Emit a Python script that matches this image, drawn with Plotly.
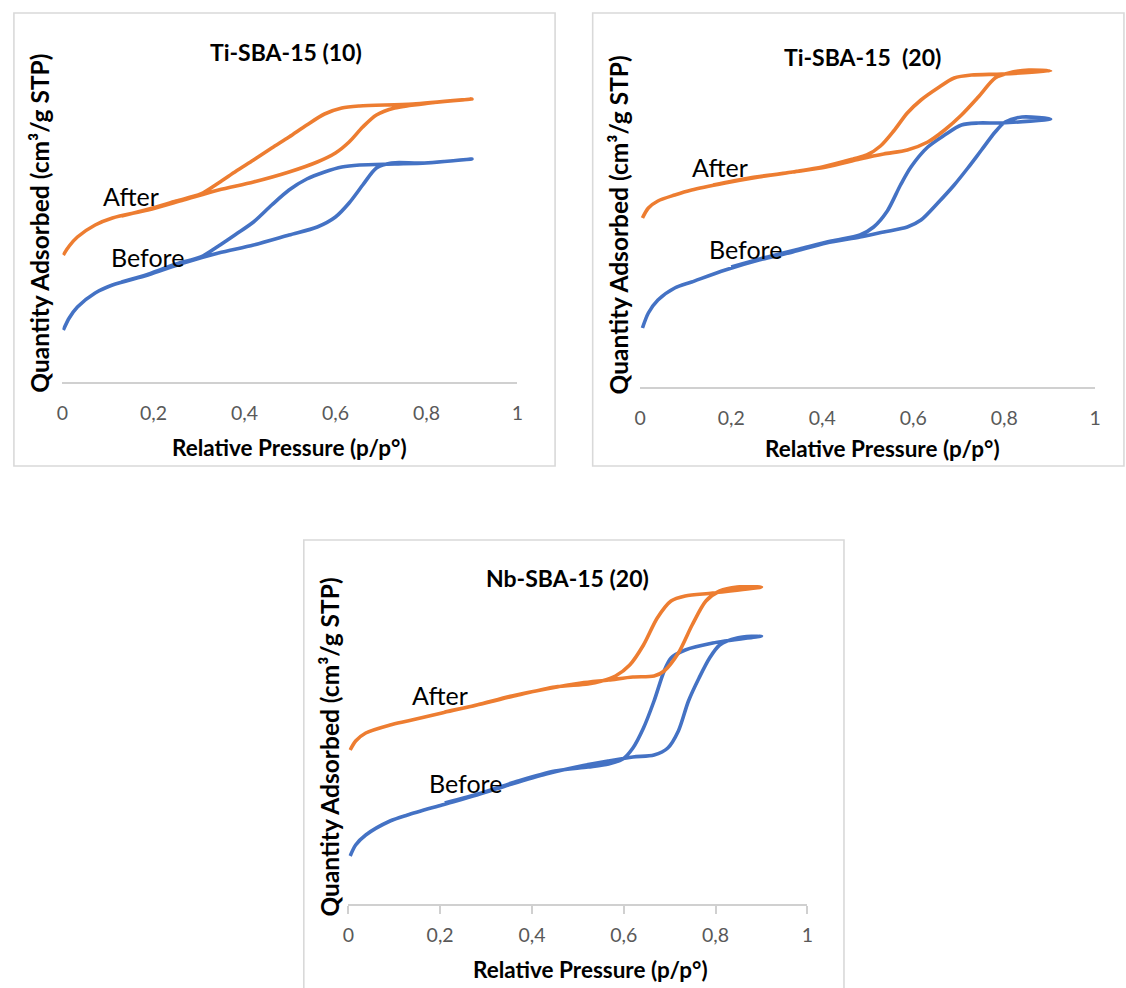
import plotly.graph_objects as go

# ---------------------------------------------------------------
# N2 physisorption isotherms (adsorption branch followed by the
# desorption branch), relative pressure p/p° vs quantity adsorbed
# ---------------------------------------------------------------

# Ti-SBA-15 (10)
ti10_before_ads_p = [0.002, 0.015, 0.033, 0.072, 0.11, 0.188, 0.266, 0.343, 0.42, 0.498, 0.56, 0.60, 0.63, 0.66, 0.69, 0.723, 0.79, 0.90]
ti10_before_ads_q = [52, 64, 75, 89, 97, 107, 119, 129, 137, 147, 155, 165, 179, 197, 214, 219, 219, 223]
ti10_before_des_p = [0.80, 0.73, 0.653, 0.614, 0.576, 0.537, 0.498, 0.46, 0.42, 0.382, 0.343, 0.304, 0.25, 0.19, 0.13]
ti10_before_des_q = [219, 218, 217, 215, 210, 203, 192, 177, 160, 148, 136, 125, 118, 108, 100]

ti10_after_ads_p = [0.002, 0.015, 0.033, 0.072, 0.11, 0.188, 0.266, 0.343, 0.42, 0.498, 0.56, 0.60, 0.63, 0.66, 0.69, 0.73, 0.808, 0.90]
ti10_after_ads_q = [127, 136, 145, 157, 164, 172, 182, 192, 200, 210, 220, 229, 240, 255, 267, 274, 279, 283]
ti10_after_des_p = [0.77, 0.653, 0.614, 0.576, 0.537, 0.498, 0.46, 0.42, 0.382, 0.343, 0.304, 0.25, 0.19, 0.13]
ti10_after_des_q = [278, 276, 274, 268, 257, 245, 234, 222, 211, 199, 188, 181, 173, 166]

# Ti-SBA-15 (20)
ti20_before_ads_p = [0.005, 0.018, 0.039, 0.076, 0.113, 0.187, 0.261, 0.335, 0.409, 0.483, 0.535, 0.587, 0.617, 0.654, 0.69, 0.72, 0.75, 0.78, 0.802, 0.839, 0.902]
ti20_before_ads_q = [59, 74, 87, 99, 105, 117, 127, 135, 144, 150, 155, 160, 167, 184, 202, 219, 237, 255, 265, 270, 268]
ti20_before_des_p = [0.795, 0.743, 0.706, 0.669, 0.632, 0.595, 0.572, 0.543, 0.513, 0.483, 0.42, 0.35, 0.28, 0.20]
ti20_before_des_q = [264, 264, 262, 252, 240, 220, 202, 176, 160, 152, 146, 138, 130, 120]

ti20_after_ads_p = [0.005, 0.018, 0.039, 0.076, 0.113, 0.187, 0.261, 0.335, 0.409, 0.483, 0.535, 0.587, 0.632, 0.669, 0.706, 0.743, 0.78, 0.81, 0.854, 0.902]
ti20_after_ads_q = [169, 179, 186, 192, 197, 204, 210, 215, 220, 228, 233, 237, 245, 257, 272, 290, 309, 314, 317, 316]
ti20_after_des_p = [0.795, 0.728, 0.69, 0.654, 0.617, 0.587, 0.557, 0.528, 0.498, 0.468, 0.40, 0.32, 0.24, 0.16]
ti20_after_des_q = [313, 312, 309, 299, 287, 274, 256, 241, 232, 228, 220, 214, 209, 202]

# Nb-SBA-15 (20)
nb20_before_ads_p = [0.004, 0.016, 0.038, 0.091, 0.129, 0.204, 0.28, 0.356, 0.431, 0.507, 0.567, 0.62, 0.666, 0.696, 0.719, 0.741, 0.764, 0.787, 0.809, 0.847, 0.90]
nb20_before_ads_q = [48, 59, 69, 83, 89, 99, 109, 120, 130, 138, 143, 147, 149, 156, 173, 203, 226, 246, 259, 266, 268]
nb20_before_des_p = [0.794, 0.734, 0.703, 0.688, 0.666, 0.643, 0.62, 0.598, 0.567, 0.522, 0.45, 0.37, 0.29, 0.21]
nb20_before_des_q = [261, 254, 246, 233, 203, 176, 156, 145, 140, 137, 133, 123, 111, 101]

nb20_after_ads_p = [0.004, 0.016, 0.038, 0.091, 0.129, 0.204, 0.28, 0.356, 0.431, 0.507, 0.567, 0.62, 0.666, 0.688, 0.719, 0.749, 0.779, 0.809, 0.847, 0.90]
nb20_after_ads_q = [154, 163, 171, 179, 183, 191, 199, 208, 215, 221, 224, 227, 228, 233, 251, 279, 303, 313, 317, 317]
nb20_after_des_p = [0.794, 0.734, 0.703, 0.673, 0.643, 0.613, 0.582, 0.552, 0.522, 0.45, 0.37, 0.29, 0.21]
nb20_after_des_q = [311, 308, 303, 286, 259, 239, 228, 223, 220, 217, 209, 200, 192]

tick_vals = [0, 0.2, 0.4, 0.6, 0.8, 1]
tick_text = ["0", "0,2", "0,4", "0,6", "0,8", "1"]

panel_titles = ["Ti-SBA-15 (10)", "Ti-SBA-15  (20)", "Nb-SBA-15 (20)"]
x_title = "Relative Pressure (p/p°)"
y_title = "Quantity Adsorbed (cm³/g STP)"
series_names = ["Before", "After"]

BLUE = "#4472C4"
ORANGE = "#ED7D31"
FONT = "Lato, 'Noto Sans', sans-serif"

W, H = 1126, 988


def fx(px):
    return px / W


def fy(py):
    return 1 - py / H


panels = [
    dict(
        xa="x", ya="y",
        before=(ti10_before_ads_p + ti10_before_des_p, ti10_before_ads_q + ti10_before_des_q),
        after=(ti10_after_ads_p + ti10_after_des_p, ti10_after_ads_q + ti10_after_des_q),
        xdom=(57, 517), axis_py=382, top_py=70, ticks=False,
        box=(8, 13, 555, 466),
        title=(283, 52), xt=(287, 447), yt=(33, 223),
        lab_after=(126, 196), lab_before=(143, 257),
    ),
    dict(
        xa="x2", ya="y2",
        before=(ti20_before_ads_p + ti20_before_des_p, ti20_before_ads_q + ti20_before_des_q),
        after=(ti20_after_ads_p + ti20_after_des_p, ti20_after_ads_q + ti20_after_des_q),
        xdom=(641, 1101), axis_py=387, top_py=60, ticks=False,
        box=(593, 13, 1130, 466),
        title=(866, 57), xt=(886, 448), yt=(619, 225),
        lab_after=(722, 167), lab_before=(747, 249),
    ),
    dict(
        xa="x3", ya="y3",
        before=(nb20_before_ads_p + nb20_before_des_p, nb20_before_ads_q + nb20_before_des_q),
        after=(nb20_after_ads_p + nb20_after_des_p, nb20_after_ads_q + nb20_after_des_q),
        xdom=(346, 810), axis_py=904, top_py=585, ticks=True,
        box=(301, 540, 847, 1000),
        title=(568, 578), xt=(591, 969), yt=(326, 747),
        lab_after=(439, 695), lab_before=(464, 783),
    ),
]

fig = go.Figure()
layout = dict(
    width=W, height=H,
    margin=dict(l=0, r=0, t=0, b=0),
    paper_bgcolor="white", plot_bgcolor="white",
    showlegend=False,
    font=dict(family=FONT, color="black"),
)
shapes = []
annotations = []

for i, pn in enumerate(panels):
    for name, color in ((series_names[0], BLUE), (series_names[1], ORANGE)):
        xs, ys = pn["before"] if name == "Before" else pn["after"]
        fig.add_trace(go.Scatter(
            x=xs, y=ys, mode="lines", name=name,
            line=dict(color=color, width=3.6, shape="spline", smoothing=0.8),
            xaxis=pn["xa"], yaxis=pn["ya"],
        ))

    suffix = "" if i == 0 else str(i + 1)
    layout["xaxis" + suffix] = dict(
        domain=[fx(pn["xdom"][0]), fx(pn["xdom"][1])],
        range=[0, 1], anchor=pn["ya"],
        showgrid=False, zeroline=False,
        showline=True, linecolor="#D0D0D0", linewidth=1.6,
        tickmode="array", tickvals=tick_vals, ticktext=tick_text,
        ticks="outside" if pn["ticks"] else "",
        ticklen=8, tickwidth=1.6, tickcolor="#D0D0D0",
        ticklabelstandoff=5 if pn["ticks"] else 13,
        tickfont=dict(family=FONT, size=19.5, color="#595959"),
        fixedrange=True,
    )
    plot_h = pn["axis_py"] - pn["top_py"]
    layout["yaxis" + suffix] = dict(
        domain=[fy(pn["axis_py"]), fy(pn["top_py"])],
        range=[0, plot_h], anchor=pn["xa"],
        visible=False, fixedrange=True,
    )

    bx0, by0, bx1, by1 = pn["box"]
    shapes.append(dict(
        type="rect", xref="paper", yref="paper",
        x0=fx(bx0), x1=fx(bx1), y0=fy(by1), y1=fy(by0),
        line=dict(color="#D9D9D9", width=1.6), fillcolor="rgba(0,0,0,0)",
        layer="below",
    ))

    def ann(text, pos, size, bold=False, angle=0, color="black"):
        annotations.append(dict(
            text=f"<b>{text}</b>" if bold else text,
            x=fx(pos[0]), y=fy(pos[1]), xref="paper", yref="paper",
            xanchor="center", yanchor="middle", showarrow=False,
            textangle=angle,
            font=dict(family=FONT, size=size, color=color),
        ))

    ann(panel_titles[i], pn["title"], 23, bold=True)
    ann(x_title, pn["xt"], 22.5, bold=True)
    ann(y_title, pn["yt"], 24.5, bold=True, angle=-90)
    ann("After", pn["lab_after"], 25)
    ann("Before", pn["lab_before"], 25)

layout["shapes"] = shapes
layout["annotations"] = annotations
fig.update_layout(**layout)

fig.write_html("out.html")
